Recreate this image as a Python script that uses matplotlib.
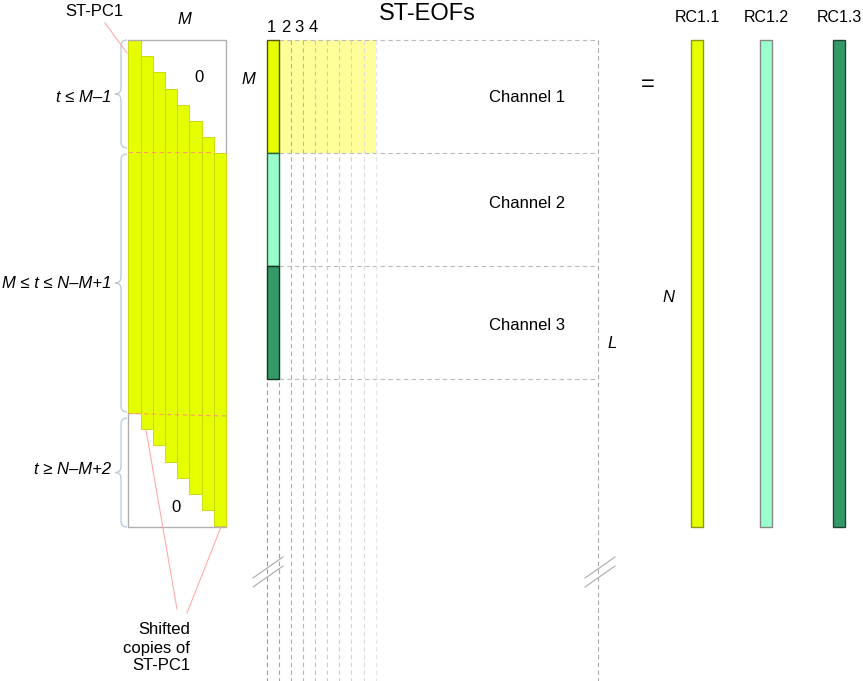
import matplotlib.pyplot as plt
from matplotlib.path import Path
from matplotlib.patches import PathPatch, Rectangle

plt.rcParams['font.family'] = ['Liberation Sans', 'DejaVu Sans']

# diagram content
n_lags = 8  # window length M drawn as 8 shifted copies
lag_labels = ['1', '2', '3', '4']
channels = ['Channel 1', 'Channel 2', 'Channel 3']
channel_colors = ['#e5ff00', '#99ffcc', '#339966']
channel_edges = ['#555500', '#226644', '#113322']
rc_labels = ['RC1.1', 'RC1.2', 'RC1.3']
rc_edges = ['#8a9900', '#888888', '#224433']
brace_labels = ['t \u2264 M\u20131', 'M \u2264 t \u2264 N\u2013M+1', 't \u2265 N\u2013M+2']
pc_color = '#e5ff00'

fig = plt.figure(figsize=(8.63, 6.81), dpi=100)
ax = fig.add_axes([0, 0, 1, 1])
ax.set_xlim(0, 863)
ax.set_ylim(681, 0)
ax.axis('off')

grey = '#b0b0b0'


def brace(x, y0, y1, w=12, r=6, color='#b8c8dc'):
    ym = (y0 + y1) / 2
    xm = x - w / 2
    verts = [(x, y0), (xm, y0), (xm, y0 + r), (xm, ym - r), (xm, ym), (x - w, ym),
             (xm, ym), (xm, ym + r), (xm, y1 - r), (xm, y1), (x, y1)]
    codes = [Path.MOVETO, Path.CURVE3, Path.CURVE3, Path.LINETO, Path.CURVE3, Path.CURVE3,
             Path.CURVE3, Path.CURVE3, Path.LINETO, Path.CURVE3, Path.CURVE3]
    ax.add_patch(PathPatch(Path(verts, codes), fc='none', ec=color, lw=0.9))


# ---- left: trajectory matrix of shifted ST-PC1 copies
x0, top, col_w, step = 128.3, 40, 12.21, 16.2
bottom0 = 413
ax.plot([x0, x0 + n_lags * col_w, x0 + n_lags * col_w], [top, top, 153], color=grey, lw=1)
ax.plot([x0, x0, x0 + n_lags * col_w], [413, 527, 527], color=grey, lw=1)
for k in range(n_lags):
    ax.add_patch(Rectangle((x0 + k * col_w, top + k * step), col_w, bottom0 - top,
                           fc=pc_color, ec='#c4d400', lw=0.6))
ax.plot([x0, x0 + (n_lags - 1) * col_w], [152, 152], color='#ff9966', lw=0.8, ls=(0, (4, 3)))
ax.plot([x0, x0 + n_lags * col_w], [413.5, 416], color='#ff9966', lw=0.8, ls=(0, (4, 3)))

ax.text(199, 77, '0', fontsize=12, ha='center', va='center')
ax.text(176, 507, '0', fontsize=12, ha='center', va='center')
ax.text(184, 20, 'M', fontsize=12, style='italic', ha='center', va='center')
ax.text(94, 12, 'ST-PC1', fontsize=12, ha='center', va='center')
ax.plot([105, 127], [23, 53], color='#ffaaaa', lw=0.8)

brace(127, 40, 148)
brace(127, 154, 412)
brace(127, 418, 527)
for label, yc in zip(brace_labels, [97, 283, 470]):
    ax.text(111, yc, label, fontsize=12, style='italic', ha='right', va='center')

ax.plot([146, 177], [430, 609], color='#ffaaaa', lw=0.8)
ax.plot([221, 187], [527, 613], color='#ffaaaa', lw=0.8)
ax.text(190, 648, 'Shifted\ncopies of\nST-PC1', fontsize=12, ha='right', va='center',
        linespacing=1.25)

# ---- middle: ST-EOFs
ex0, ew = 266.7, 12.1
seg_h = 113
ax.add_patch(Rectangle((ex0 + ew, 40), ew * n_lags, seg_h, fc='#ffff99', ec='none'))
for i, (name, c, ec) in enumerate(zip(channels, channel_colors, channel_edges)):
    y = 40 + i * seg_h
    ax.add_patch(Rectangle((ex0, y), ew, seg_h, fc=c, ec=ec, lw=1, zorder=3))
    ax.text(527, y + [58, 50, 59][i], name, fontsize=12, ha='center', va='center')
for i in range(4):
    y = 40 + i * seg_h
    ax.plot([ex0 + ew, 598], [y, y], color='#bbbbbb', lw=0.8, ls=(0, (4, 3)))
for k in range(n_lags + 2):
    xk = ex0 + k * ew
    shade = min(0.6 + 0.04 * k, 0.95) if k < 6 else 0.8 + 0.03 * (k - 6)
    ax.plot([xk, xk], [40, 681], color=str(shade), lw=0.8, ls=(0, (4, 3)), zorder=2)
ax.plot([598, 598], [40, 681], color='#aaaaaa', lw=0.8, ls=(0, (4, 3)))
for xb in (253, 585):
    ax.plot([xb, xb + 30], [578, 557], color='#aaaaaa', lw=0.8)
    ax.plot([xb, xb + 30], [587, 566], color='#aaaaaa', lw=0.8)

for i, lab in enumerate(lag_labels):
    ax.text(271.7 + i * 13.7, 27, lab, fontsize=12, ha='center', va='center')
ax.text(427, 14, 'ST-EOFs', fontsize=17, ha='center', va='center')
ax.text(248, 80, 'M', fontsize=12, style='italic', ha='center', va='center')
ax.text(612, 344, 'L', fontsize=12, style='italic', ha='center', va='center')

# ---- right: reconstructed components
ax.text(648, 85, '=', fontsize=17, ha='center', va='center')
ax.text(668, 297, 'N', fontsize=12, style='italic', ha='center', va='center')
for label, c, ec, xc in zip(rc_labels, channel_colors, rc_edges, [697, 766, 839]):
    ax.add_patch(Rectangle((xc - 6.2, 40), 12.4, 487, fc=c, ec=ec, lw=1))
    ax.text(xc, 18, label, fontsize=11.5, ha='center', va='center')

fig.savefig('out.png', dpi=100)
